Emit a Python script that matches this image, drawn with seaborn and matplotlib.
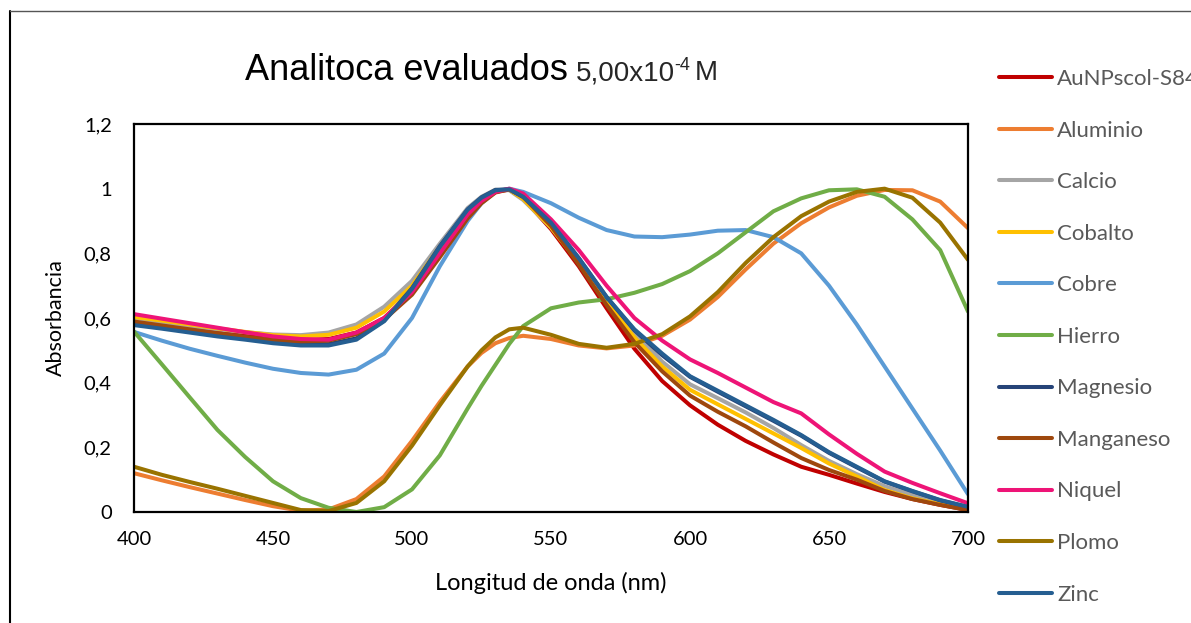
import matplotlib
matplotlib.use("Agg")
import matplotlib.pyplot as plt
from matplotlib.lines import Line2D
import pandas as pd
import seaborn as sns

# Wavelength grid (nm)
wavelength = [400, 410, 420, 430, 440, 450, 460, 470, 480, 490, 500, 510, 520, 525,
              530, 535, 540, 550, 560, 570, 580, 590, 600, 610, 620, 630, 640, 650,
              660, 670, 680, 690, 700]

# Normalised absorbance of each sample
aunps = [0.592, 0.580, 0.568, 0.556, 0.546, 0.537, 0.532, 0.535, 0.555, 0.600, 0.680,
         0.795, 0.915, 0.960, 0.990, 0.997, 0.970, 0.875, 0.760, 0.630, 0.505, 0.405,
         0.330, 0.270, 0.220, 0.178, 0.140, 0.115, 0.088, 0.062, 0.040, 0.022, 0.006]
aluminio = [0.120, 0.098, 0.077, 0.057, 0.037, 0.018, 0.004, 0.008, 0.040, 0.110, 0.220,
            0.340, 0.450, 0.492, 0.522, 0.538, 0.545, 0.535, 0.515, 0.506, 0.515, 0.545,
            0.595, 0.665, 0.750, 0.830, 0.893, 0.942, 0.978, 0.996, 0.995, 0.960, 0.878]
calcio = [0.595, 0.585, 0.575, 0.565, 0.556, 0.549, 0.547, 0.555, 0.580, 0.635, 0.715,
          0.830, 0.940, 0.975, 0.997, 0.995, 0.965, 0.880, 0.775, 0.660, 0.555, 0.465,
          0.395, 0.352, 0.308, 0.260, 0.207, 0.158, 0.117, 0.080, 0.052, 0.030, 0.010]
cobalto = [0.603, 0.592, 0.580, 0.568, 0.557, 0.547, 0.543, 0.548, 0.570, 0.620, 0.700,
           0.820, 0.930, 0.970, 0.995, 0.997, 0.968, 0.880, 0.770, 0.650, 0.540, 0.450,
           0.378, 0.333, 0.288, 0.243, 0.198, 0.150, 0.110, 0.068, 0.042, 0.024, 0.008]
cobre = [0.557, 0.530, 0.505, 0.483, 0.462, 0.443, 0.430, 0.425, 0.440, 0.490, 0.600,
         0.760, 0.900, 0.955, 0.990, 1.000, 0.990, 0.955, 0.910, 0.872, 0.852, 0.850,
         0.858, 0.870, 0.872, 0.850, 0.800, 0.700, 0.580, 0.450, 0.320, 0.190, 0.055]
hierro = [0.558, 0.457, 0.355, 0.254, 0.170, 0.095, 0.043, 0.013, 0.000, 0.015, 0.070,
          0.175, 0.320, 0.390, 0.455, 0.520, 0.575, 0.630, 0.648, 0.658, 0.678, 0.705,
          0.745, 0.800, 0.865, 0.930, 0.970, 0.995, 0.998, 0.975, 0.905, 0.810, 0.620]
magnesio = [0.582, 0.571, 0.559, 0.547, 0.537, 0.526, 0.519, 0.519, 0.537, 0.592, 0.692,
            0.822, 0.936, 0.973, 0.996, 0.998, 0.974, 0.895, 0.785, 0.665, 0.562, 0.485,
            0.418, 0.372, 0.327, 0.282, 0.236, 0.183, 0.138, 0.094, 0.064, 0.036, 0.015]
manganeso = [0.589, 0.577, 0.565, 0.553, 0.542, 0.532, 0.527, 0.530, 0.550, 0.595, 0.672,
             0.788, 0.908, 0.955, 0.988, 0.998, 0.975, 0.885, 0.765, 0.640, 0.525, 0.435,
             0.360, 0.310, 0.265, 0.215, 0.167, 0.130, 0.100, 0.065, 0.040, 0.022, 0.006]
niquel = [0.612, 0.598, 0.584, 0.570, 0.556, 0.543, 0.535, 0.533, 0.555, 0.600, 0.680,
          0.800, 0.920, 0.962, 0.990, 1.000, 0.985, 0.905, 0.810, 0.700, 0.600, 0.530,
          0.472, 0.430, 0.385, 0.340, 0.305, 0.240, 0.180, 0.125, 0.090, 0.058, 0.027]
plomo = [0.140, 0.115, 0.093, 0.072, 0.050, 0.028, 0.006, 0.003, 0.028, 0.095, 0.205,
         0.330, 0.450, 0.500, 0.540, 0.565, 0.570, 0.548, 0.520, 0.508, 0.520, 0.550,
         0.605, 0.680, 0.770, 0.850, 0.915, 0.960, 0.990, 1.000, 0.972, 0.895, 0.780]
zinc = [0.578, 0.567, 0.555, 0.543, 0.533, 0.522, 0.515, 0.515, 0.533, 0.590, 0.690,
        0.820, 0.935, 0.972, 0.995, 0.998, 0.975, 0.895, 0.785, 0.665, 0.565, 0.490,
        0.420, 0.375, 0.330, 0.285, 0.238, 0.185, 0.140, 0.095, 0.065, 0.037, 0.016]

series_names = ["AuNPscol-S84", "Aluminio", "Calcio", "Cobalto", "Cobre", "Hierro",
                "Magnesio", "Manganeso", "Niquel", "Plomo", "Zinc"]
series_values = [aunps, aluminio, calcio, cobalto, cobre, hierro,
                 magnesio, manganeso, niquel, plomo, zinc]
series_colors = ["#C00000", "#ED7D31", "#A5A5A5", "#FFC000", "#5B9BD5", "#70AD47",
                 "#264478", "#9E480E", "#EE1477", "#997300", "#255E91"]

x_ticks = [400, 450, 500, 550, 600, 650, 700]
y_ticks = [0, 0.2, 0.4, 0.6, 0.8, 1.0, 1.2]
y_tick_labels = ["0", "0,2", "0,4", "0,6", "0,8", "1", "1,2"]

title_main = "Analitoca evaluados"
title_conc = "5,00x10"
title_exp = "-4"
title_unit = "M"

rows = []
for name, vals in zip(series_names, series_values):
    for w, v in zip(wavelength, vals):
        rows.append({"nm": w, "abs": v, "serie": name})
df = pd.DataFrame(rows)

sns.set_theme(style="white")
plt.rcParams["font.family"] = ["Lato", "DejaVu Sans"]

W, H = 1191, 623
fig = plt.figure(figsize=(W / 100, H / 100), dpi=100)
ax = fig.add_axes([134 / W, 1 - 512 / H, (968 - 134) / W, (512 - 124) / H])

sns.lineplot(data=df, x="nm", y="abs", hue="serie", hue_order=series_names,
             palette=dict(zip(series_names, series_colors)), estimator=None,
             sort=False, linewidth=2.9, ax=ax, legend=False)
for ln in ax.get_lines():
    ln.set_solid_capstyle("round")
    ln.set_solid_joinstyle("round")

ax.set_xlim(400, 700)
ax.set_ylim(0, 1.2)
ax.set_xticks(x_ticks)
ax.set_xticklabels([str(t) for t in x_ticks])
ax.set_yticks(y_ticks)
ax.set_yticklabels(y_tick_labels)
ax.tick_params(axis="both", length=0, labelsize=14.5, colors="#000000")
ax.tick_params(axis="y", pad=16)
ax.tick_params(axis="x", pad=14)
for sp in ax.spines.values():
    sp.set_color("#000000")
    sp.set_linewidth(1.6)
ax.grid(False)
ax.set_xlabel("Longitud de onda (nm)", fontsize=17, color="#000000", labelpad=17)
ax.set_ylabel("Absorbancia", fontsize=15.5, color="#000000", labelpad=13)

# Legend on the right
handles = [Line2D([0], [0], color=c, lw=2.9) for c in series_colors]
fig.legend(handles, series_names, loc="upper left", bbox_to_anchor=(999 / W, 1 - 69 / H),
           frameon=False, fontsize=16, handlelength=2.4, handletextpad=0.22,
           labelspacing=1.42, labelcolor="#595959", borderaxespad=0, borderpad=0)

# Title made of pieces with different sizes on a common baseline
base_y = 1 - 80 / H
tfam = ["Liberation Sans", "DejaVu Sans"]
t1 = fig.text(245 / W, base_y, title_main, fontsize=26, family=tfam, va="baseline",
              color="#000000")
fig.canvas.draw()
r = fig.canvas.get_renderer()
x1 = t1.get_window_extent(r).x1 + 8
t2 = fig.text(x1 / W, base_y, title_conc, fontsize=20, family=tfam, va="baseline")
x2 = t2.get_window_extent(r).x1 - 1
t3 = fig.text(x2 / W, base_y + 10 / H, title_exp, fontsize=13, family=tfam, va="baseline")
x3 = t3.get_window_extent(r).x1 + 5
fig.text(x3 / W, base_y, title_unit, fontsize=20, family=tfam, va="baseline")

# Outer chart frame
fig.add_artist(Line2D([9.5 / W, 9.5 / W], [0, 1 - 11 / H], transform=fig.transFigure,
                      color="#000000", lw=1.5))
fig.add_artist(Line2D([9.5 / W, 1], [1 - 11 / H, 1 - 11 / H], transform=fig.transFigure,
                      color="#555555", lw=1.0))

fig.savefig("out.png", dpi=100, facecolor="white")
